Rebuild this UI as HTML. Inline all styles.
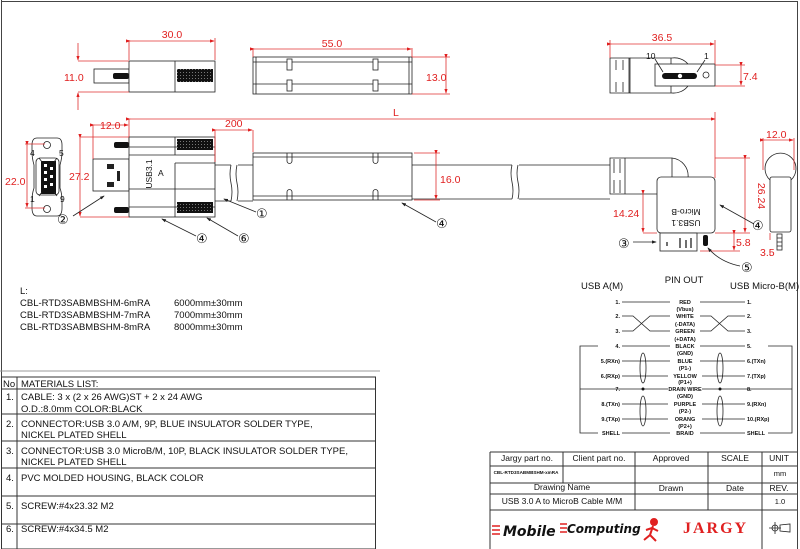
<!DOCTYPE html>
<html><head><meta charset="utf-8"><style>
html,body{margin:0;padding:0;background:#fff}
svg{display:block;font-family:"Liberation Sans",sans-serif}
.r{fill:#e02020;font-size:10.5px}
.rl{stroke:#e03030;stroke-width:.8;fill:none}
.k{stroke:#222;stroke-width:.8;fill:none}
.kf{stroke:#222;stroke-width:.8;fill:#fff}
.t{font-size:8.5px;fill:#111}
.s{font-size:5.5px;fill:#111;font-weight:bold}
.m{font-size:9.5px;fill:#111}
</style></head><body>
<svg width="800" height="549" viewBox="0 0 800 549" xmlns="http://www.w3.org/2000/svg">
<defs>
<marker id="a" markerWidth="6" markerHeight="6" refX="5" refY="3" orient="auto"><path d="M0,1 L6,3 L0,5Z" fill="#e02020"/></marker>
<marker id="b" markerWidth="6" markerHeight="6" refX="5" refY="3" orient="auto"><path d="M0,1 L6,3 L0,5Z" fill="#222"/></marker>
<pattern id="th" width="3" height="3" patternUnits="userSpaceOnUse"><rect width="3" height="3" fill="#111"/><rect width="1" height="1" fill="#777"/></pattern>
</defs>
<path d="M1.5,0 V549 M797.5,1.5 V549 M1,1.5 H798" stroke="#444" stroke-width="1" fill="none"/>

<rect x="94" y="69" width="35" height="14" class="kf"/>
<rect x="113" y="73" width="16" height="6" rx="2" fill="#111"/>
<rect x="129" y="61" width="86" height="31" class="kf"/>
<line x1="175" y1="61" x2="175" y2="92" class="k"/>
<rect x="177" y="69" width="36" height="13" fill="url(#th)"/>
<path d="M129,40 V60 M215,38 V60" class="rl"/>
<line x1="130" y1="41" x2="214" y2="41" class="rl" marker-start="url(#a)" marker-end="url(#a)"/>
<text x="172" y="38" class="r" text-anchor="middle">30.0</text>
<path d="M78,61 H129 M78,92 H129" class="rl"/>
<line x1="78" y1="43" x2="78" y2="60" class="rl" marker-end="url(#a)"/>
<line x1="78" y1="110" x2="78" y2="93" class="rl" marker-end="url(#a)"/>
<text x="64" y="81" class="r">11.0</text>

<rect x="253" y="57" width="159" height="37" class="kf"/>
<path d="M253,62 H412 M253,84 H412 M256,57 V94 M409,57 V94" class="k"/>
<rect x="287" y="59" width="5" height="11" class="kf"/><rect x="373" y="59" width="5" height="11" class="kf"/>
<rect x="287" y="80" width="5" height="11" class="kf"/><rect x="373" y="80" width="5" height="11" class="kf"/>
<path d="M253,48 V57 M412,48 V57 M412,57 H450 M412,94 H450" class="rl"/>
<line x1="254" y1="49" x2="411" y2="49" class="rl" marker-start="url(#a)" marker-end="url(#a)"/>
<text x="332" y="47" class="r" text-anchor="middle">55.0</text>
<line x1="446" y1="58" x2="446" y2="93" class="rl" marker-start="url(#a)" marker-end="url(#a)"/>
<text x="426" y="81" class="r">13.0</text>

<path d="M610,58 H630 V93 H610 Z" class="kf"/>
<path d="M630,58 H672 M630,93 H672" class="k"/>
<path d="M616,60 v10 M623,60 v10 M616,82 v10 M623,82 v10 M629,58 v35" class="k"/>
<path d="M672,58 A18,18 0 0 1 688,64 M672,93 A18,18 0 0 0 688,86 M671,58 V64 M671,86 V93" class="k"/>
<rect x="655" y="64" width="60" height="22" class="kf"/>
<rect x="662" y="73" width="35" height="6" rx="3" fill="#111"/>
<circle cx="680" cy="76" r="2.5" fill="#fff" stroke="#111" stroke-width=".6"/>
<circle cx="706" cy="75" r="3" class="kf"/>
<path d="M655,59 L663,72 M705,60 L697,72" class="k"/>
<text x="646" y="59" class="t" font-size="7">10</text><text x="704" y="59" class="t" font-size="7">1</text>
<path d="M610,40 V58 M715,40 V64 M715,65 H745 M715,86 H745" class="rl"/>
<line x1="611" y1="44" x2="714" y2="44" class="rl" marker-start="url(#a)" marker-end="url(#a)"/>
<text x="662" y="41" class="r" text-anchor="middle">36.5</text>
<line x1="741" y1="66" x2="741" y2="85" class="rl" marker-start="url(#a)" marker-end="url(#a)"/>
<text x="743" y="80" class="r">7.4</text>

<line x1="130" y1="119" x2="715" y2="119" class="rl" marker-start="url(#a)" marker-end="url(#a)"/>
<path d="M129,119 V145 M715,112 V178" class="rl"/>
<text x="393" y="116" class="r">L</text>

<path d="M37,138 H57 Q62,138 62,145 V152 Q62,158 60,165 V188 Q62,194 62,200 V208 Q62,216 57,216 H37 Q32,216 32,208 V200 Q32,194 34,188 V165 Q32,158 32,152 V145 Q32,138 37,138Z" class="kf"/>
<circle cx="47" cy="145" r="3.5" class="k"/><circle cx="47" cy="209" r="3.5" class="k"/>
<rect x="36" y="158" width="23" height="37" rx="4" class="k"/>
<rect x="41" y="161" width="15" height="33" fill="#111"/>
<g fill="#fff"><rect x="44" y="164" width="3" height="3"/><rect x="44" y="171" width="3" height="3"/><rect x="44" y="178" width="3" height="3"/><rect x="44" y="185" width="3" height="3"/><rect x="50" y="167" width="3" height="3"/><rect x="50" y="175" width="3" height="3"/><rect x="50" y="183" width="3" height="3"/></g>
<path d="M39,158 L42,162 M57,158 L54,162 M39,196 L42,192 M57,196 L54,192" class="k"/>
<text x="30" y="156" class="t">4</text><text x="59" y="156" class="t">5</text><text x="30" y="202" class="t">1</text><text x="60" y="202" class="t">9</text>
<path d="M25,144 H45 M25,208 H45" class="rl"/>
<line x1="27" y1="145" x2="27" y2="207" class="rl" marker-start="url(#a)" marker-end="url(#a)"/>
<text x="5" y="185" class="r">22.0</text>

<rect x="93" y="159" width="36" height="32" class="kf"/>
<rect x="107" y="164" width="7" height="5" fill="#222"/><rect x="107" y="182" width="7" height="5" fill="#222"/>
<rect x="117" y="171" width="3" height="10" fill="#222"/>
<rect x="114" y="142" width="15" height="6" rx="2" fill="#111"/><rect x="114" y="207" width="15" height="6" rx="2" fill="#111"/>
<rect x="129" y="137" width="86" height="80" class="kf"/>
<path d="M129,155 H215 M129,189 H215 M175,137 V155 M175,189 V217 M129,207 H215 M129,147 H215" class="k"/>
<path d="M175,163 H215 M175,189 V163" class="k"/>
<rect x="177" y="139" width="36" height="11" fill="url(#th)"/>
<rect x="177" y="202" width="36" height="11" fill="url(#th)"/>
<text x="152" y="174" class="t" font-size="6" transform="rotate(-90 152 174)" text-anchor="middle">USB3.1</text>
<text x="158" y="176" class="t" font-size="6">A</text>
<path d="M93,125 V159 M80,137 H129 M80,217 H129" class="rl"/>
<line x1="94" y1="125" x2="128" y2="125" class="rl" marker-start="url(#a)" marker-end="url(#a)"/>
<text x="100" y="129" class="r">12.0</text>
<line x1="80" y1="138" x2="80" y2="216" class="rl" marker-start="url(#a)" marker-end="url(#a)"/>
<text x="69" y="180" class="r">27.2</text>
<path d="M215,165 H231 M238,165 H253 M215,201 H231 M238,201 H253" class="k"/>
<path d="M231,165 q-2,9 0,18 q2,9 0,18 M237,165 q-2,9 0,18 q2,9 0,18" class="k"/>
<path d="M215,130 V162 M253,130 V152" class="rl"/>
<line x1="216" y1="130" x2="252" y2="130" class="rl" marker-start="url(#a)" marker-end="url(#a)"/>
<text x="225" y="127" class="r">200</text>

<rect x="253" y="153" width="159" height="47" class="kf"/>
<path d="M253,157 H412 M253,196 H412" class="k"/>
<path d="M287,153 v8 a2,2 0 0 0 5,0 v-8 M373,153 v8 a2,2 0 0 0 5,0 v-8 M287,200 v-8 a2,2 0 0 1 5,0 v8 M373,200 v-8 a2,2 0 0 1 5,0 v8" class="k"/>
<path d="M412,165 H512 M519,165 H610 M412,199 H512 M519,199 H610" class="k"/>
<path d="M512,165 q-2,8 0,17 q2,9 0,17 M518,165 q-2,8 0,17 q2,9 0,17" class="k"/>
<path d="M414,153 H440 M414,200 H440" class="rl"/>
<line x1="436" y1="154" x2="436" y2="199" class="rl" marker-start="url(#a)" marker-end="url(#a)"/>
<text x="440" y="183" class="r">16.0</text>

<path d="M610,158 H672 A18,18 0 0 1 688,178 L690,178 V194 H610Z" class="kf"/>
<path d="M614,159 v14 M620,159 v14 M614,180 v13 M620,180 v13 M625,158 V194 M672,158 V178" class="k"/>
<rect x="657" y="177" width="58" height="56" rx="4" class="kf"/>
<text x="686" y="213" class="t" font-size="6.5" text-anchor="middle" transform="rotate(180 686 211)">Micro-B</text>
<text x="686" y="224" class="t" font-size="6.5" text-anchor="middle" transform="rotate(180 686 222)">USB3.1</text>
<rect x="660" y="233" width="37" height="18" class="kf"/>
<path d="M667,242 v4 M680,238 v10 M686,240 v8 M691,238 v10" stroke="#222" stroke-width="1.3"/>
<rect x="703" y="235" width="5" height="11" rx="2" fill="#111"/>
<path d="M643,233 H657 M715,158 H750 M715,233 H750 M700,251 H740 M716,233 H740" class="rl"/>
<line x1="643" y1="194" x2="643" y2="232" class="rl" marker-start="url(#a)" marker-end="url(#a)"/>
<text x="613" y="217" class="r">14.24</text>
<line x1="745" y1="159" x2="745" y2="232" class="rl" marker-start="url(#a)" marker-end="url(#a)"/>
<text x="758" y="196" class="r" text-anchor="middle" transform="rotate(90 758 196)">26.24</text>
<line x1="734" y1="234" x2="734" y2="250" class="rl" marker-start="url(#a)" marker-end="url(#a)"/>
<text x="736" y="246" class="r">5.8</text>

<path d="M770,180 A15.5,15.5 0 1 1 791,180" class="k"/>
<rect x="770" y="177" width="21" height="55" rx="2" class="kf"/>
<rect x="777" y="234" width="5" height="16" class="kf"/>
<path d="M777,238 h5 M777,242 h5 M777,246 h5" class="k"/>
<path d="M763,138 V170 M794,138 V170" class="rl"/>
<line x1="764" y1="140" x2="793" y2="140" class="rl" marker-start="url(#a)" marker-end="url(#a)"/>
<text x="766" y="138" class="r">12.0</text>
<path d="M770,233 V240 M770,250 V255" class="rl"/>
<text x="760" y="256" class="r">3.5</text>

<g font-size="13" fill="#111" font-family="DejaVu Sans,sans-serif">
<line x1="73" y1="216" x2="104" y2="196" class="k" marker-end="url(#b)"/><text x="57" y="224">②</text>
<line x1="196" y1="236" x2="162" y2="219" class="k" marker-end="url(#b)"/><text x="196" y="243">④</text>
<line x1="238" y1="236" x2="207" y2="218" class="k" marker-end="url(#b)"/><text x="238" y="243">⑥</text>
<line x1="256" y1="212" x2="224" y2="199" class="k" marker-end="url(#b)"/><text x="256" y="218">①</text>
<line x1="436" y1="222" x2="402" y2="203" class="k" marker-end="url(#b)"/><text x="436" y="228">④</text>
<line x1="754" y1="224" x2="720" y2="205" class="k" marker-end="url(#b)"/><text x="752" y="230">④</text>
<line x1="633" y1="242" x2="656" y2="242" class="k" marker-end="url(#b)"/><text x="618" y="248">③</text>
<path d="M740,266 Q720,262 708,248" class="k" marker-end="url(#b)"/><text x="741" y="272">⑤</text>
</g>

<g class="m" font-size="9.5">
<text x="20" y="294">L:</text>
<text x="20" y="306">CBL-RTD3SABMBSHM-6mRA</text><text x="174" y="306">6000mm±30mm</text>
<text x="20" y="318">CBL-RTD3SABMBSHM-7mRA</text><text x="174" y="318">7000mm±30mm</text>
<text x="20" y="330">CBL-RTD3SABMBSHM-8mRA</text><text x="174" y="330">8000mm±30mm</text>
</g>

<text x="684" y="283" class="m" font-size="10" text-anchor="middle">PIN OUT</text>
<text x="581" y="289" class="m" font-size="9">USB A(M)</text>
<text x="730" y="289" class="m" font-size="9">USB Micro-B(M)</text>
<g class="k" stroke-width=".6">
<path d="M622,302 H670 M700,302 H745"/>
<path d="M622,316 H633 L650,331 H670 M622,331 H633 L650,316 H670 M700,316 H711 L728,331 H745 M700,331 H711 L728,316 H745"/>
<path d="M622,346 H670 M700,346 H745 M622,361 H670 M700,361 H745 M622,376 H668 M702,376 H745 M622,404 H668 M702,404 H745 M622,419 H668 M702,419 H745"/>
<path d="M580,389 H668 M702,389 H792"/>
<path d="M622,433 H670 M700,433 H745"/>
<path d="M598,346 H580 V433 H598 M768,346 H792 V433 H768"/>
<ellipse cx="643" cy="368" rx="3" ry="15"/><ellipse cx="643" cy="411" rx="3" ry="15"/>
<ellipse cx="720" cy="368" rx="3" ry="15"/><ellipse cx="720" cy="411" rx="3" ry="15"/>
</g>
<circle cx="643" cy="389" r="1.5" fill="#111"/><circle cx="720" cy="389" r="1.5" fill="#111"/>
<g class="s">
<text x="620" y="304" text-anchor="end">1.</text><text x="620" y="318" text-anchor="end">2.</text><text x="620" y="333" text-anchor="end">3.</text><text x="620" y="348" text-anchor="end">4.</text>
<text x="620" y="363" text-anchor="end">5.(RXn)</text><text x="620" y="378" text-anchor="end">6.(RXp)</text><text x="620" y="391" text-anchor="end">7.</text>
<text x="620" y="406" text-anchor="end">8.(TXn)</text><text x="620" y="421" text-anchor="end">9.(TXp)</text><text x="620" y="435" text-anchor="end">SHELL</text>
<text x="747" y="304">1.</text><text x="747" y="318">2.</text><text x="747" y="333">3.</text><text x="747" y="348">5.</text>
<text x="747" y="363">6.(TXn)</text><text x="747" y="378">7.(TXp)</text><text x="747" y="391">8.</text>
<text x="747" y="406">9.(RXn)</text><text x="747" y="421">10.(RXp)</text><text x="747" y="435">SHELL</text>
<g text-anchor="middle">
<text x="685" y="304">RED</text><text x="685" y="311">(Vbus)</text><text x="685" y="318">WHITE</text><text x="685" y="326">(-DATA)</text>
<text x="685" y="333">GREEN</text><text x="685" y="341">(+DATA)</text><text x="685" y="348">BLACK</text><text x="685" y="355">(GND)</text>
<text x="685" y="363">BLUE</text><text x="685" y="370">(P1-)</text><text x="685" y="378">YELLOW</text><text x="685" y="384">(P1+)</text>
<text x="685" y="391">DRAIN WIRE</text><text x="685" y="398">(GND)</text><text x="685" y="406">PURPLE</text><text x="685" y="413">(P2-)</text>
<text x="685" y="421">ORANG</text><text x="685" y="428">(P2+)</text><text x="685" y="435">BRAID</text>
</g></g>

<line x1="0" y1="371" x2="380" y2="371" stroke="#999" stroke-width="1"/>
<g stroke="#333" stroke-width="1" fill="none">
<rect x="1.5" y="377" width="374" height="172"/>
<path d="M17,377 V549 M1,389 H375 M1,414 H375 M1,441 H375 M1,468 H375 M1,496 H375 M1,524 H375"/>
</g>
<g class="m">
<text x="3" y="387">No</text><text x="21" y="387">MATERIALS LIST:</text>
<text x="6" y="400">1.</text><text x="21" y="400">CABLE: 3 x (2 x 26 AWG)ST + 2 x 24 AWG</text><text x="21" y="412">O.D.:8.0mm COLOR:BLACK</text>
<text x="6" y="427">2.</text><text x="21" y="427">CONNECTOR:USB 3.0 A/M, 9P, BLUE INSULATOR SOLDER TYPE,</text><text x="21" y="438">NICKEL PLATED SHELL</text>
<text x="6" y="454">3.</text><text x="21" y="454">CONNECTOR:USB 3.0 MicroB/M, 10P, BLACK INSULATOR SOLDER TYPE,</text><text x="21" y="465">NICKEL PLATED SHELL</text>
<text x="6" y="481">4.</text><text x="21" y="481">PVC MOLDED HOUSING, BLACK COLOR</text>
<text x="6" y="509">5.</text><text x="21" y="509">SCREW:#4x23.32 M2</text>
<text x="6" y="532">6.</text><text x="21" y="532">SCREW:#4x34.5 M2</text>
</g>

<g stroke="#333" stroke-width="1" fill="none">
<path d="M490,452 H797 M490,452 V549 M490,466 H797 M490,483 H797 M490,494 H797 M490,510 H797"/>
<path d="M563,452 V483 M635,452 V510 M708,452 V510 M762,452 V549"/>
</g>
<g class="t" font-size="6.5" text-anchor="middle">
<text x="527" y="461">Jargy part no.</text><text x="599" y="461">Client part no.</text><text x="671" y="461">Approved</text><text x="735" y="461">SCALE</text><text x="779" y="461">UNIT</text>
<text x="526" y="474" font-size="4.6" font-weight="bold">CBL-RTD3SABMBSHM-xmRA</text><text x="780" y="476" font-size="7.5">mm</text>
<text x="562" y="490">Drawing Name</text><text x="671" y="491">Drawn</text><text x="735" y="491">Date</text><text x="779" y="491">REV.</text>
<text x="562" y="504">USB 3.0 A to MicroB Cable M/M</text><text x="780" y="504" font-size="7.5">1.0</text>
</g>
<text x="503" y="536" font-family="DejaVu Sans,sans-serif" font-weight="bold" font-style="italic" font-size="14" fill="#111">Mobile</text>
<path d="M492,526 h8 M492,530 h8 M492,534 h8" stroke="#e02020" stroke-width="1.5"/>
<text x="567" y="533" font-family="DejaVu Sans,sans-serif" font-weight="bold" font-style="italic" font-size="12" fill="#111">Computing</text>
<path d="M560,524 h7 M560,528 h7 M560,532 h7" stroke="#e02020" stroke-width="1.5"/>
<g stroke="#e02020" stroke-width="2" fill="none"><circle cx="654" cy="522" r="3" fill="#e02020"/><path d="M653,526 L650,535 L644,540 M650,535 L656,541 M652,528 L658,531 M652,528 L646,530"/></g>
<text x="683" y="533" font-family="Liberation Serif,serif" font-weight="bold" font-size="16" fill="#e02020" letter-spacing="2">JARGY</text>
<g stroke="#222" stroke-width=".8" fill="none"><circle cx="775" cy="528" r="3"/><path d="M769,528 h12 M775,522 v12 M780,525 L790,524 V532 L780,531Z"/></g>
</svg>
</body></html>
